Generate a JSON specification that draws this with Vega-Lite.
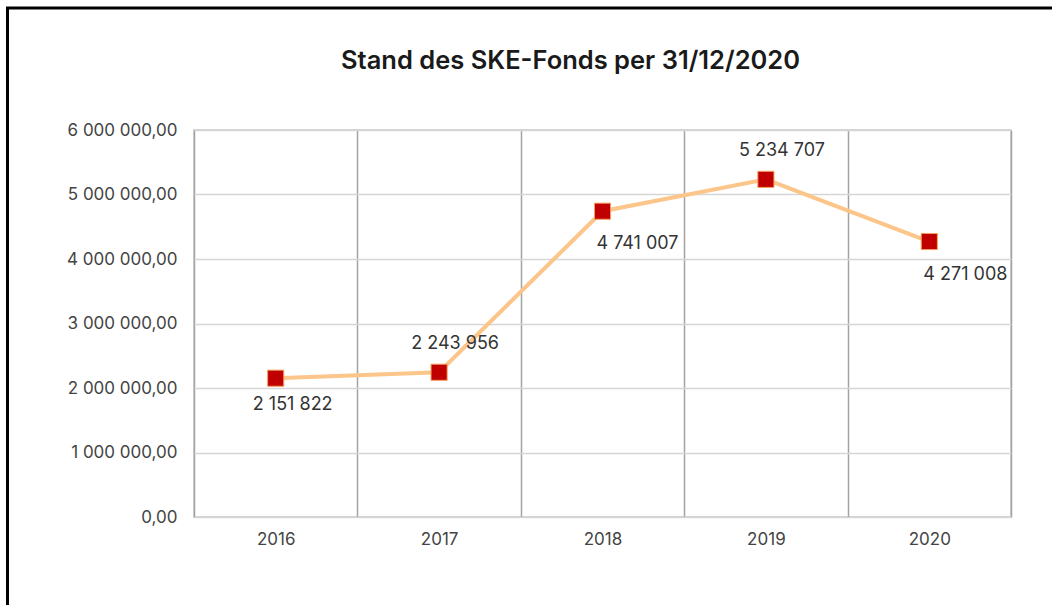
{
  "$schema": "https://vega.github.io/schema/vega-lite/v6.json",
  "autosize": {"type": "none"},
  "width": 817,
  "height": 387,
  "padding": {"left": 194, "top": 130, "right": 41, "bottom": 88},
  "background": "white",
  "title": {
    "text": "Stand des SKE-Fonds per 31/12/2020",
    "font": "Inter",
    "fontSize": 25.5,
    "fontWeight": 600,
    "color": "#1a1a1a",
    "anchor": "middle",
    "dx": -32,
    "offset": -68
  },
  "config": {
    "locale": {"number": {"decimal": ",", "thousands": " ", "grouping": [3], "currency": ["", ""]}},
    "font": "Inter",
    "view": {"stroke": "#c4c4c4", "strokeWidth": 1.5}
  },
  "datasets": {
    "fund": [
      {"year": "2016", "value": 2151822},
      {"year": "2017", "value": 2243956},
      {"year": "2018", "value": 4741007},
      {"year": "2019", "value": 5234707},
      {"year": "2020", "value": 4271008}
    ]
  },
  "layer": [
    {
      "data": {"values": [{"frame": "border"}]},
      "mark": {"type": "rect", "fill": null, "stroke": "black", "strokeWidth": 3},
      "encoding": {
        "x": {"value": -186.5},
        "x2": {"value": 1000},
        "y": {"value": -122},
        "y2": {"value": 700}
      }
    },
    {
      "data": {"name": "fund"},
      "encoding": {
        "x": {
          "field": "year",
          "type": "nominal",
          "scale": {"paddingInner": 0, "paddingOuter": 0},
          "axis": {
            "title": null,
            "labelAngle": 0,
            "labelFontSize": 17,
            "labelColor": "#444444",
            "labelPadding": 14,
            "ticks": false,
            "tickBand": "extent",
            "domain": false,
            "grid": true,
            "gridColor": "#a3a3a3",
            "gridWidth": 1.5
          }
        },
        "y": {
          "field": "value",
          "type": "quantitative",
          "scale": {"domain": [0, 6000000], "nice": false},
          "axis": {
            "title": null,
            "values": [0, 1000000, 2000000, 3000000, 4000000, 5000000, 6000000],
            "format": ",.2f",
            "labelFontSize": 17,
            "labelColor": "#444444",
            "labelPadding": 17,
            "ticks": false,
            "domain": false,
            "gridColor": "#d6d6d6",
            "gridWidth": 1.5
          }
        }
      },
      "layer": [
        {
          "mark": {"type": "line", "color": "#fcc58a", "strokeWidth": 4}
        },
        {
          "mark": {"type": "point", "shape": "square", "filled": true, "fill": "#c00000", "stroke": "#f4a15d", "strokeWidth": 1, "size": 260, "opacity": 1}
        },
        {
          "transform": [{"filter": "datum.year == '2017' || datum.year == '2019'"}],
          "mark": {"type": "text", "fontSize": 18, "color": "#333333", "dx": 16, "dy": -28, "align": "center", "baseline": "middle"},
          "encoding": {"text": {"field": "value", "type": "quantitative", "format": ",.0f"}}
        },
        {
          "transform": [{"filter": "datum.year == '2016'"}],
          "mark": {"type": "text", "fontSize": 18, "color": "#333333", "dx": 17, "dy": 27, "align": "center", "baseline": "middle"},
          "encoding": {"text": {"field": "value", "type": "quantitative", "format": ",.0f"}}
        },
        {
          "transform": [{"filter": "datum.year == '2018' || datum.year == '2020'"}],
          "mark": {"type": "text", "fontSize": 18, "color": "#333333", "dx": -6, "dy": 33, "align": "left", "baseline": "middle"},
          "encoding": {"text": {"field": "value", "type": "quantitative", "format": ",.0f"}}
        }
      ]
    }
  ]
}
